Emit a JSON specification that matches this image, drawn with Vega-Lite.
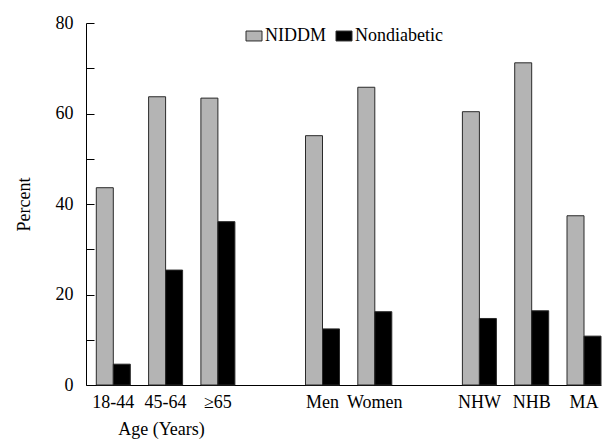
{
  "$schema": "https://vega.github.io/schema/vega-lite/v6.json",
  "width": 515,
  "height": 362,
  "autosize": "none",
  "padding": {"left": 86, "top": 23, "right": 11, "bottom": 54},
  "background": "white",
  "config": {
    "view": {"stroke": null},
    "font": "Liberation Serif"
  },
  "data": {
    "values": [
      {"group": "18-44", "series": "NIDDM", "percent": 43.6},
      {"group": "18-44", "series": "Nondiabetic", "percent": 4.6},
      {"group": "45-64", "series": "NIDDM", "percent": 63.7},
      {"group": "45-64", "series": "Nondiabetic", "percent": 25.4},
      {"group": "≥65", "series": "NIDDM", "percent": 63.4},
      {"group": "≥65", "series": "Nondiabetic", "percent": 36.1},
      {"group": "Men", "series": "NIDDM", "percent": 55.1},
      {"group": "Men", "series": "Nondiabetic", "percent": 12.4},
      {"group": "Women", "series": "NIDDM", "percent": 65.8},
      {"group": "Women", "series": "Nondiabetic", "percent": 16.2},
      {"group": "NHW", "series": "NIDDM", "percent": 60.4},
      {"group": "NHW", "series": "Nondiabetic", "percent": 14.7},
      {"group": "NHB", "series": "NIDDM", "percent": 71.2},
      {"group": "NHB", "series": "Nondiabetic", "percent": 16.4},
      {"group": "MA", "series": "NIDDM", "percent": 37.4},
      {"group": "MA", "series": "Nondiabetic", "percent": 10.8}
    ]
  },
  "mark": {"type": "bar", "stroke": "#2a2a2a", "strokeWidth": 1},
  "encoding": {
    "x": {
      "field": "group",
      "type": "nominal",
      "sort": null,
      "scale": {
        "domain": ["18-44", "45-64", "≥65", "gap1", "Men", "Women", "gap2", "NHW", "NHB", "MA"],
        "paddingInner": 0.35,
        "paddingOuter": 0.0985,
        "align": 1
      },
      "axis": {
        "title": "Age (Years)",
        "titleFont": "Liberation Serif",
        "titleFontSize": 18,
        "titleFontWeight": "normal",
        "titleColor": "black",
        "titleAnchor": "start",
        "titleAlign": "center",
        "titleBaseline": "middle",
        "titleX": 75,
        "titleY": 44,
        "labelExpr": "indexof(datum.value, 'gap') == 0 ? '' : datum.value",
        "labelAngle": 0,
        "labelFont": "Liberation Serif",
        "labelFontSize": 18,
        "labelColor": "black",
        "labelPadding": 8,
        "ticks": false,
        "domainColor": "black",
        "domainWidth": 1
      }
    },
    "xOffset": {
      "field": "series",
      "type": "nominal",
      "scale": {"paddingInner": 0, "paddingOuter": 0}
    },
    "y": {
      "field": "percent",
      "type": "quantitative",
      "scale": {"domain": [0, 80], "nice": false},
      "axis": {
        "title": "Percent",
        "titleFont": "Liberation Serif",
        "titleFontSize": 18,
        "titleFontWeight": "normal",
        "titleColor": "black",
        "titlePadding": 22,
        "values": [0, 10, 20, 30, 40, 50, 60, 70, 80],
        "labelExpr": "datum.value % 20 == 0 ? datum.label : ''",
        "labelFont": "Liberation Serif",
        "labelFontSize": 18,
        "labelColor": "black",
        "labelPadding": 21,
        "tickSize": -8,
        "tickColor": "black",
        "domainColor": "black",
        "grid": false
      }
    },
    "color": {
      "field": "series",
      "type": "nominal",
      "scale": {"domain": ["NIDDM", "Nondiabetic"], "range": ["#b4b4b4", "#000000"]},
      "legend": {
        "title": null,
        "orient": "none",
        "direction": "horizontal",
        "legendX": 159,
        "legendY": 4,
        "symbolType": "M-1,-0.62H1V0.62H-1Z",
        "symbolSize": 256,
        "symbolStrokeColor": "#2a2a2a",
        "symbolStrokeWidth": 1,
        "symbolOpacity": 1,
        "labelFont": "Liberation Serif",
        "labelFontSize": 18,
        "labelColor": "black",
        "labelOffset": 2,
        "columnPadding": 8
      }
    }
  }
}
